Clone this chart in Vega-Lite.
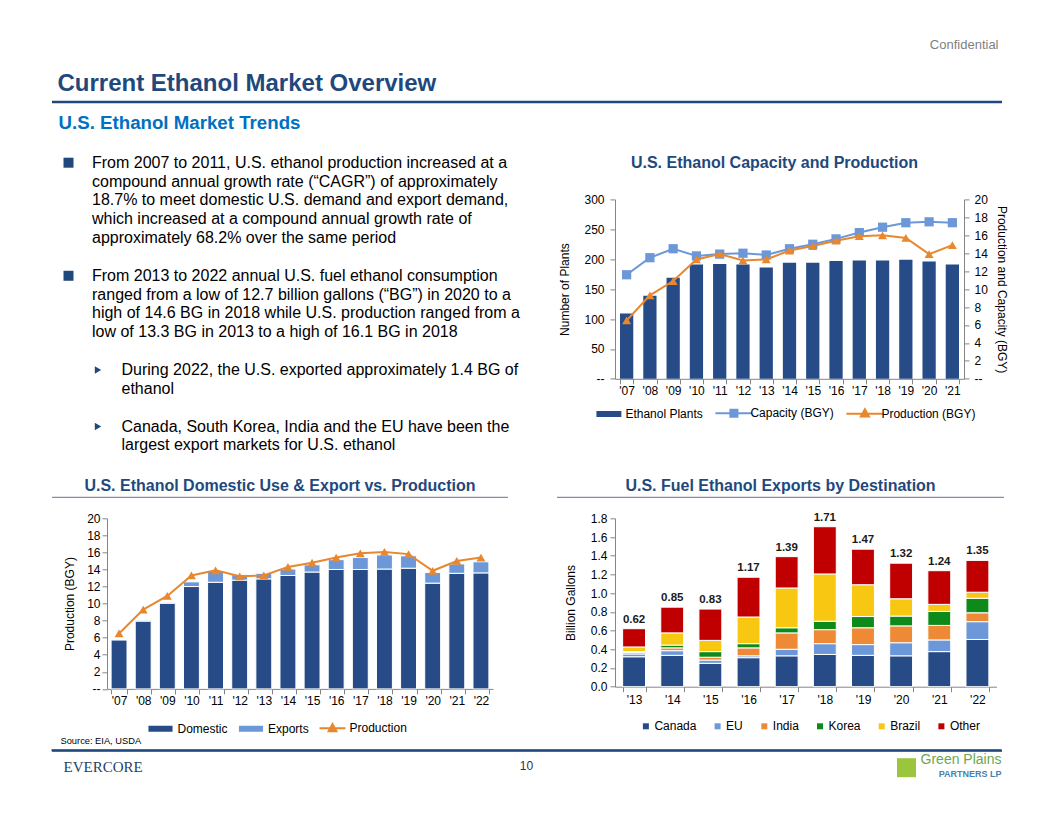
{
  "$schema": "https://vega.github.io/schema/vega-lite/v6.json",
  "background": "white",
  "padding": {"left": 48, "top": 38.5, "right": 0, "bottom": 0},
  "config": {
    "view": {"stroke": null},
    "font": "Liberation Sans",
    "axis": {"labelFont": "Liberation Sans", "titleFont": "Liberation Sans", "labelFontSize": 12, "titleFontSize": 12, "titleFontWeight": "normal", "labelColor": "#000000", "titleColor": "#000000", "domainColor": "#868686", "tickColor": "#868686", "grid": false, "tickSize": 5},
    "legend": {"labelFont": "Liberation Sans", "labelFontSize": 12, "labelColor": "#000000", "padding": 0, "gridAlign": "each"},
    "title": {"font": "Liberation Sans"},
    "text": {"font": "Liberation Sans"}
  },
  "datasets": {
    "plants": [
      {"year": "'07", "plants": 109, "capacity": 11.6, "production": 6.5},
      {"year": "'08", "plants": 139, "capacity": 13.5, "production": 9.3},
      {"year": "'09", "plants": 169, "capacity": 14.5, "production": 10.9},
      {"year": "'10", "plants": 191, "capacity": 13.7, "production": 13.3},
      {"year": "'11", "plants": 192, "capacity": 13.9, "production": 13.9},
      {"year": "'12", "plants": 191, "capacity": 14.0, "production": 13.2},
      {"year": "'13", "plants": 186, "capacity": 13.8, "production": 13.3},
      {"year": "'14", "plants": 194, "capacity": 14.5, "production": 14.3},
      {"year": "'15", "plants": 194, "capacity": 15.0, "production": 14.8},
      {"year": "'16", "plants": 197, "capacity": 15.6, "production": 15.4},
      {"year": "'17", "plants": 198, "capacity": 16.3, "production": 15.9},
      {"year": "'18", "plants": 198, "capacity": 16.9, "production": 16.0},
      {"year": "'19", "plants": 199, "capacity": 17.4, "production": 15.7},
      {"year": "'20", "plants": 196, "capacity": 17.5, "production": 13.9},
      {"year": "'21", "plants": 191, "capacity": 17.4, "production": 14.9}
    ],
    "use": [
      {"year": "'07", "series": "Domestic", "value": 5.75}, {"year": "'07", "series": "Exports", "value": 0.05},
      {"year": "'08", "series": "Domestic", "value": 7.95}, {"year": "'08", "series": "Exports", "value": 0.1},
      {"year": "'09", "series": "Domestic", "value": 10.05}, {"year": "'09", "series": "Exports", "value": 0.1},
      {"year": "'10", "series": "Domestic", "value": 12.0}, {"year": "'10", "series": "Exports", "value": 0.55},
      {"year": "'11", "series": "Domestic", "value": 12.5}, {"year": "'11", "series": "Exports", "value": 1.3},
      {"year": "'12", "series": "Domestic", "value": 12.75}, {"year": "'12", "series": "Exports", "value": 0.65},
      {"year": "'13", "series": "Domestic", "value": 12.9}, {"year": "'13", "series": "Exports", "value": 0.65},
      {"year": "'14", "series": "Domestic", "value": 13.3}, {"year": "'14", "series": "Exports", "value": 0.75},
      {"year": "'15", "series": "Domestic", "value": 13.7}, {"year": "'15", "series": "Exports", "value": 0.85},
      {"year": "'16", "series": "Domestic", "value": 14.0}, {"year": "'16", "series": "Exports", "value": 1.15},
      {"year": "'17", "series": "Domestic", "value": 14.0}, {"year": "'17", "series": "Exports", "value": 1.4},
      {"year": "'18", "series": "Domestic", "value": 14.05}, {"year": "'18", "series": "Exports", "value": 1.65},
      {"year": "'19", "series": "Domestic", "value": 14.15}, {"year": "'19", "series": "Exports", "value": 1.45},
      {"year": "'20", "series": "Domestic", "value": 12.4}, {"year": "'20", "series": "Exports", "value": 1.25},
      {"year": "'21", "series": "Domestic", "value": 13.55}, {"year": "'21", "series": "Exports", "value": 1.1},
      {"year": "'22", "series": "Domestic", "value": 13.6}, {"year": "'22", "series": "Exports", "value": 1.3}
    ],
    "prod": [
      {"year": "'07", "production": 6.5}, {"year": "'08", "production": 9.3}, {"year": "'09", "production": 10.9},
      {"year": "'10", "production": 13.3}, {"year": "'11", "production": 13.9}, {"year": "'12", "production": 13.2},
      {"year": "'13", "production": 13.3}, {"year": "'14", "production": 14.3}, {"year": "'15", "production": 14.8},
      {"year": "'16", "production": 15.4}, {"year": "'17", "production": 15.9}, {"year": "'18", "production": 16.05},
      {"year": "'19", "production": 15.8}, {"year": "'20", "production": 13.85}, {"year": "'21", "production": 15.0},
      {"year": "'22", "production": 15.4}
    ],
    "exports": [
      {"year": "'13", "country": "Canada", "value": 0.32}, {"year": "'13", "country": "EU", "value": 0.03}, {"year": "'13", "country": "India", "value": 0.015}, {"year": "'13", "country": "Korea", "value": 0.01}, {"year": "'13", "country": "Brazil", "value": 0.05}, {"year": "'13", "country": "Other", "value": 0.195},
      {"year": "'14", "country": "Canada", "value": 0.335}, {"year": "'14", "country": "EU", "value": 0.05}, {"year": "'14", "country": "India", "value": 0.03}, {"year": "'14", "country": "Korea", "value": 0.03}, {"year": "'14", "country": "Brazil", "value": 0.13}, {"year": "'14", "country": "Other", "value": 0.275},
      {"year": "'15", "country": "Canada", "value": 0.25}, {"year": "'15", "country": "EU", "value": 0.035}, {"year": "'15", "country": "India", "value": 0.03}, {"year": "'15", "country": "Korea", "value": 0.06}, {"year": "'15", "country": "Brazil", "value": 0.12}, {"year": "'15", "country": "Other", "value": 0.335},
      {"year": "'16", "country": "Canada", "value": 0.31}, {"year": "'16", "country": "EU", "value": 0.02}, {"year": "'16", "country": "India", "value": 0.085}, {"year": "'16", "country": "Korea", "value": 0.045}, {"year": "'16", "country": "Brazil", "value": 0.285}, {"year": "'16", "country": "Other", "value": 0.425},
      {"year": "'17", "country": "Canada", "value": 0.33}, {"year": "'17", "country": "EU", "value": 0.07}, {"year": "'17", "country": "India", "value": 0.175}, {"year": "'17", "country": "Korea", "value": 0.055}, {"year": "'17", "country": "Brazil", "value": 0.425}, {"year": "'17", "country": "Other", "value": 0.335},
      {"year": "'18", "country": "Canada", "value": 0.345}, {"year": "'18", "country": "EU", "value": 0.115}, {"year": "'18", "country": "India", "value": 0.15}, {"year": "'18", "country": "Korea", "value": 0.09}, {"year": "'18", "country": "Brazil", "value": 0.505}, {"year": "'18", "country": "Other", "value": 0.505},
      {"year": "'19", "country": "Canada", "value": 0.335}, {"year": "'19", "country": "EU", "value": 0.115}, {"year": "'19", "country": "India", "value": 0.18}, {"year": "'19", "country": "Korea", "value": 0.12}, {"year": "'19", "country": "Brazil", "value": 0.34}, {"year": "'19", "country": "Other", "value": 0.38},
      {"year": "'20", "country": "Canada", "value": 0.33}, {"year": "'20", "country": "EU", "value": 0.14}, {"year": "'20", "country": "India", "value": 0.18}, {"year": "'20", "country": "Korea", "value": 0.105}, {"year": "'20", "country": "Brazil", "value": 0.185}, {"year": "'20", "country": "Other", "value": 0.38},
      {"year": "'21", "country": "Canada", "value": 0.375}, {"year": "'21", "country": "EU", "value": 0.125}, {"year": "'21", "country": "India", "value": 0.155}, {"year": "'21", "country": "Korea", "value": 0.15}, {"year": "'21", "country": "Brazil", "value": 0.075}, {"year": "'21", "country": "Other", "value": 0.36},
      {"year": "'22", "country": "Canada", "value": 0.505}, {"year": "'22", "country": "EU", "value": 0.19}, {"year": "'22", "country": "India", "value": 0.095}, {"year": "'22", "country": "Korea", "value": 0.155}, {"year": "'22", "country": "Brazil", "value": 0.065}, {"year": "'22", "country": "Other", "value": 0.34}
    ],
    "bullets": [
      {"line": 1, "level": 1, "bullet": true, "text": "From 2007 to 2011, U.S. ethanol production increased at a"},
      {"line": 2, "level": 1, "text": "compound annual growth rate (“CAGR”) of approximately"},
      {"line": 3, "level": 1, "text": "18.7% to meet domestic U.S. demand and export demand,"},
      {"line": 4, "level": 1, "text": "which increased at a compound annual growth rate of"},
      {"line": 5, "level": 1, "text": "approximately 68.2% over the same period"},
      {"line": 7, "level": 1, "bullet": true, "text": "From 2013 to 2022 annual U.S. fuel ethanol consumption"},
      {"line": 8, "level": 1, "text": "ranged from a low of 12.7 billion gallons (“BG”) in 2020 to a"},
      {"line": 9, "level": 1, "text": "high of 14.6 BG in 2018 while U.S. production ranged from a"},
      {"line": 10, "level": 1, "text": "low of 13.3 BG in 2013 to a high of 16.1 BG in 2018"},
      {"line": 12, "level": 2, "bullet": true, "text": "During 2022, the U.S. exported approximately 1.4 BG of"},
      {"line": 13, "level": 2, "text": "ethanol"},
      {"line": 15, "level": 2, "bullet": true, "text": "Canada, South Korea, India and the EU have been the"},
      {"line": 16, "level": 2, "text": "largest export markets for U.S. ethanol"}
    ]
  },
  "columns": 2,
  "bounds": "flush",
  "align": "each",
  "spacing": {"row": 60.9, "column": 122},
  "resolve": {"scale": {"color": "independent", "shape": "independent", "size": "independent", "x": "independent", "y": "independent"}, "legend": {"color": "independent"}},
  "concat": [
    {
      "width": 386, "height": 36.85,
      "title": {"text": "Current Ethanol Market Overview", "anchor": "start", "frame": "group", "dx": -49.5, "offset": -18.7, "fontSize": 24, "fontWeight": "bold", "color": "#1F497D", "baseline": "bottom"},
      "data": {"values": [{"u": 0}]},
      "mark": {"type": "point", "opacity": 0},
      "encoding": {
        "x": {"datum": 0, "type": "quantitative", "scale": {"domain": [0, 1], "range": [-55.5, 894.5]}, "axis": {"orient": "top", "labels": false, "ticks": false, "grid": false, "title": null, "domainColor": "#1F497D", "domainWidth": 2.5}}
      }
    },
    {
      "width": 386.5, "height": 1,
      "data": {"values": [{"label": "Confidential"}]},
      "mark": {"type": "text", "align": "right", "baseline": "middle", "dx": -3, "dy": -56.75, "fontSize": 13, "color": "#7F7F7F"},
      "encoding": {
        "text": {"field": "label"},
        "x": {"datum": 1, "type": "quantitative", "scale": {"domain": [0, 1], "range": [0, 386.5]}, "axis": null}
      }
    },
    {
      "width": 386, "height": 257.1,
      "title": {"text": "U.S. Ethanol Market Trends", "anchor": "start", "frame": "group", "dx": -48.5, "offset": 3, "fontSize": 18.7, "fontWeight": "bold", "color": "#0070C0", "baseline": "bottom"},
      "data": {"name": "bullets"},
      "encoding": {
        "x": {"field": "level", "type": "quantitative", "scale": {"domain": [1, 2], "range": [-15, 14.5]}, "axis": null},
        "y": {"field": "line", "type": "quantitative", "scale": {"domain": [1, 16], "range": [-36.7, 246]}, "axis": null}
      },
      "layer": [
        {
          "mark": {"type": "text", "align": "left", "baseline": "middle", "fontSize": 16, "color": "#000000"},
          "encoding": {"text": {"field": "text"}}
        },
        {
          "transform": [{"filter": "datum.bullet"}],
          "mark": {"type": "point", "filled": true, "opacity": 1, "color": "#1F497D", "xOffset": -23.5},
          "encoding": {
            "shape": {"field": "level", "type": "nominal", "scale": {"domain": [1, 2], "range": ["square", "triangle-right"]}, "legend": null},
            "size": {"field": "level", "type": "quantitative", "scale": {"domain": [1, 2], "range": [100, 55]}, "legend": null}
          }
        }
      ]
    },
    {
      "width": 349, "height": 179.4,
      "title": {"text": "U.S. Ethanol Capacity and Production", "anchor": "middle", "frame": "group", "dx": -15, "offset": 6.7, "fontSize": 16, "fontWeight": "bold", "color": "#1F497D", "baseline": "bottom"},
      "data": {"name": "plants"},
      "layer": [
        {
          "mark": {"type": "bar", "color": "#264B86"},
          "encoding": {
            "x": {"field": "year", "type": "ordinal", "scale": {"paddingInner": 0.43, "paddingOuter": 0.215}, "axis": {"title": null, "labelAngle": 0, "tickBand": "extent", "labelPadding": 2}},
            "y": {"field": "plants", "type": "quantitative", "scale": {"domain": [0, 300]}, "axis": {"title": "Number of Plants", "values": [0, 50, 100, 150, 200, 250, 300], "labelExpr": "datum.value === 0 ? '--' : datum.label", "labelPadding": 6, "titlePadding": 12}},
            "color": {
              "datum": "Ethanol Plants", "type": "nominal",
              "scale": {"domain": ["Ethanol Plants", "Capacity (BGY)", "Production (BGY)"], "range": ["#264B86", "#6C97D8", "#E8872E"]},
              "legend": {
                "title": null, "orient": "none", "direction": "horizontal", "columns": 3, "gridAlign": "each",
                "legendX": -25.6, "legendY": 193.9, "symbolSize": 1369, "labelOffset": -3, "columnPadding": 8, "rowPadding": 0,
                "encode": {"symbols": {"update": {
                  "shape": {"signal": "datum.value === 'Ethanol Plants' ? 'M-0.62,-0.11H0.62V0.11H-0.62Z' : datum.value === 'Capacity (BGY)' ? 'M-1,0H1M-0.19,-0.19H0.19V0.19H-0.19Z' : 'M-1,0H1M0,-0.24L0.22,0.15H-0.22Z'"},
                  "fill": {"signal": "datum.value === 'Ethanol Plants' ? '#264B86' : datum.value === 'Capacity (BGY)' ? '#6C97D8' : '#E8872E'"},
                  "stroke": {"signal": "datum.value === 'Ethanol Plants' ? '#264B86' : datum.value === 'Capacity (BGY)' ? '#6C97D8' : '#E8872E'"},
                  "strokeWidth": {"value": 2},
                  "opacity": {"value": 1},
                  "fillOpacity": {"value": 1}
                }}}
              }
            }
          }
        },
        {
          "encoding": {
            "x": {"field": "year", "type": "ordinal", "scale": {"paddingInner": 0.43, "paddingOuter": 0.215}, "axis": {"title": null, "labelAngle": 0, "tickBand": "extent", "labelPadding": 2}}
          },
          "layer": [
            {
              "mark": {"type": "line", "strokeWidth": 2},
              "encoding": {
                "y": {"field": "capacity", "type": "quantitative", "scale": {"domain": [0, 20]}, "axis": {"orient": "right", "title": "Production and Capacity (BGY)", "values": [0, 2, 4, 6, 8, 10, 12, 14, 16, 18, 20], "labelExpr": "datum.value === 0 ? '--' : datum.label", "labelPadding": 5, "titlePadding": 7}},
                "color": {"datum": "Capacity (BGY)", "type": "nominal"}
              }
            },
            {
              "mark": {"type": "point", "shape": "square", "filled": true, "size": 85, "opacity": 1},
              "encoding": {
                "y": {"field": "capacity", "type": "quantitative", "scale": {"domain": [0, 20]}, "axis": {"orient": "right", "title": "Production and Capacity (BGY)", "values": [0, 2, 4, 6, 8, 10, 12, 14, 16, 18, 20], "labelExpr": "datum.value === 0 ? '--' : datum.label", "labelPadding": 5, "titlePadding": 7}},
                "color": {"datum": "Capacity (BGY)", "type": "nominal"}
              }
            },
            {
              "mark": {"type": "line", "strokeWidth": 2},
              "encoding": {
                "y": {"field": "production", "type": "quantitative", "scale": {"domain": [0, 20]}, "axis": {"orient": "right", "title": "Production and Capacity (BGY)", "values": [0, 2, 4, 6, 8, 10, 12, 14, 16, 18, 20], "labelExpr": "datum.value === 0 ? '--' : datum.label", "labelPadding": 5, "titlePadding": 7}},
                "color": {"datum": "Production (BGY)", "type": "nominal"}
              }
            },
            {
              "mark": {"type": "point", "shape": "triangle-up", "filled": true, "size": 80, "opacity": 1},
              "encoding": {
                "y": {"field": "production", "type": "quantitative", "scale": {"domain": [0, 20]}, "axis": {"orient": "right", "title": "Production and Capacity (BGY)", "values": [0, 2, 4, 6, 8, 10, 12, 14, 16, 18, 20], "labelExpr": "datum.value === 0 ? '--' : datum.label", "labelPadding": 5, "titlePadding": 7}},
                "color": {"datum": "Production (BGY)", "type": "nominal"}
              }
            }
          ]
        }
      ],
      "resolve": {"scale": {"y": "independent"}}
    },
    {
      "width": 386, "height": 170.6,
      "layer": [
        {
          "encoding": {
            "x": {"field": "year", "type": "ordinal", "scale": {"paddingInner": 0.34, "paddingOuter": 0.17}, "axis": {"title": null, "labelAngle": 0, "tickBand": "extent", "labelPadding": 2}}
          },
          "layer": [
            {
              "data": {"name": "use"},
              "transform": [{"window": [{"op": "row_number", "as": "rank"}], "groupby": ["year"]}],
              "mark": {"type": "bar", "stroke": "white", "strokeWidth": 1},
              "encoding": {
                "y": {"field": "value", "type": "quantitative", "stack": "zero", "scale": {"domain": [0, 20]}, "axis": {"title": "Production (BGY)", "values": [0, 2, 4, 6, 8, 10, 12, 14, 16, 18, 20], "labelExpr": "datum.value === 0 ? '--' : datum.label", "labelPadding": 2, "titlePadding": 10}},
                "order": {"field": "rank", "type": "quantitative"},
                "color": {
                  "field": "series", "type": "nominal",
                  "scale": {"domain": ["Domestic", "Exports", "Production"], "range": ["#264B86", "#6C97D8", "#E8872E"]},
                  "legend": {
                    "title": null, "orient": "none", "direction": "horizontal", "columns": 3, "gridAlign": "each",
                    "legendX": 39.5, "legendY": 196, "symbolSize": 676, "labelOffset": 3, "columnPadding": 6.5, "rowPadding": 0,
                    "encode": {"symbols": {"update": {
                      "shape": {"signal": "datum.value === 'Production' ? 'M-1,0H1M0,-0.33L0.3,0.22H-0.3Z' : 'M-0.85,-0.15H0.85V0.15H-0.85Z'"},
                      "fill": {"signal": "datum.value === 'Domestic' ? '#264B86' : datum.value === 'Exports' ? '#6C97D8' : '#E8872E'"},
                      "stroke": {"signal": "datum.value === 'Domestic' ? '#264B86' : datum.value === 'Exports' ? '#6C97D8' : '#E8872E'"},
                      "strokeWidth": {"value": 2},
                      "opacity": {"value": 1},
                      "fillOpacity": {"value": 1}
                    }}}
                  }
                }
              }
            },
            {
              "data": {"name": "prod"},
              "mark": {"type": "line", "strokeWidth": 2},
              "encoding": {
                "y": {"field": "production", "type": "quantitative", "axis": {"title": "Production (BGY)", "values": [0, 2, 4, 6, 8, 10, 12, 14, 16, 18, 20], "labelExpr": "datum.value === 0 ? '--' : datum.label", "labelPadding": 2, "titlePadding": 10}},
                "color": {
                  "datum": "Production", "type": "nominal",
                  "legend": {
                    "title": null, "orient": "none", "direction": "horizontal", "columns": 3, "gridAlign": "each",
                    "legendX": 39.5, "legendY": 196, "symbolSize": 676, "labelOffset": 3, "columnPadding": 6.5, "rowPadding": 0,
                    "encode": {"symbols": {"update": {
                      "shape": {"signal": "datum.value === 'Production' ? 'M-1,0H1M0,-0.33L0.3,0.22H-0.3Z' : 'M-0.85,-0.15H0.85V0.15H-0.85Z'"},
                      "fill": {"signal": "datum.value === 'Domestic' ? '#264B86' : datum.value === 'Exports' ? '#6C97D8' : '#E8872E'"},
                      "stroke": {"signal": "datum.value === 'Domestic' ? '#264B86' : datum.value === 'Exports' ? '#6C97D8' : '#E8872E'"},
                      "strokeWidth": {"value": 2},
                      "opacity": {"value": 1},
                      "fillOpacity": {"value": 1}
                    }}}
                  }
                }
              }
            },
            {
              "data": {"name": "prod"},
              "mark": {"type": "point", "shape": "triangle-up", "filled": true, "size": 80, "opacity": 1},
              "encoding": {
                "y": {"field": "production", "type": "quantitative", "axis": {"title": "Production (BGY)", "values": [0, 2, 4, 6, 8, 10, 12, 14, 16, 18, 20], "labelExpr": "datum.value === 0 ? '--' : datum.label", "labelPadding": 2, "titlePadding": 10}},
                "color": {
                  "datum": "Production", "type": "nominal",
                  "legend": {
                    "title": null, "orient": "none", "direction": "horizontal", "columns": 3, "gridAlign": "each",
                    "legendX": 39.5, "legendY": 196, "symbolSize": 676, "labelOffset": 3, "columnPadding": 6.5, "rowPadding": 0,
                    "encode": {"symbols": {"update": {
                      "shape": {"signal": "datum.value === 'Production' ? 'M-1,0H1M0,-0.33L0.3,0.22H-0.3Z' : 'M-0.85,-0.15H0.85V0.15H-0.85Z'"},
                      "fill": {"signal": "datum.value === 'Domestic' ? '#264B86' : datum.value === 'Exports' ? '#6C97D8' : '#E8872E'"},
                      "stroke": {"signal": "datum.value === 'Domestic' ? '#264B86' : datum.value === 'Exports' ? '#6C97D8' : '#E8872E'"},
                      "strokeWidth": {"value": 2},
                      "opacity": {"value": 1},
                      "fillOpacity": {"value": 1}
                    }}}
                  }
                }
              }
            }
          ]
        },
        {
          "data": {"values": [{"u": 0}]},
          "mark": {"type": "point", "opacity": 0},
          "encoding": {
            "x": {"datum": 0, "type": "quantitative", "scale": {"domain": [0, 1], "range": [-55.5, 400.5]}, "axis": {"orient": "top", "offset": 21.5, "labels": false, "ticks": false, "grid": false, "domainColor": "#7F8FA9", "domainWidth": 1.2, "title": "U.S. Ethanol Domestic Use & Export vs. Production", "titleFontSize": 16, "titleFontWeight": "bold", "titleColor": "#1F497D", "titlePadding": 3.5, "titleAnchor": "middle"}}
          }
        }
      ],
      "resolve": {"scale": {"x": "independent"}, "axis": {"x": "independent"}}
    },
    {
      "width": 381.5, "height": 168.4,
      "layer": [
        {
          "data": {"name": "exports"},
          "encoding": {
            "x": {"field": "year", "type": "ordinal", "scale": {"paddingInner": 0.4, "paddingOuter": 0.2}, "axis": {"title": null, "labelAngle": 0, "tickBand": "extent", "labelPadding": 3}}
          },
          "layer": [
            {
              "transform": [{"window": [{"op": "row_number", "as": "rank"}], "groupby": ["year"]}],
              "mark": {"type": "bar", "stroke": "white", "strokeWidth": 1},
              "encoding": {
                "y": {"field": "value", "type": "quantitative", "stack": "zero", "scale": {"domain": [0, 1.8]}, "axis": {"title": "Billion Gallons", "values": [0, 0.2, 0.4, 0.6, 0.8, 1.0, 1.2, 1.4, 1.6, 1.8], "format": ".1f", "labelPadding": 3, "titlePadding": 13}},
                "order": {"field": "rank", "type": "quantitative"},
                "color": {
                  "field": "country", "type": "nominal",
                  "scale": {"domain": ["Canada", "EU", "India", "Korea", "Brazil", "Other"], "range": ["#264B86", "#6C97D8", "#EE8A35", "#0E8A1B", "#F8C712", "#C00000"]},
                  "legend": {
                    "title": null, "orient": "none", "direction": "horizontal", "columns": 6, "gridAlign": "each",
                    "legendX": 24.9, "legendY": 202, "symbolType": "square", "symbolSize": 36, "symbolStrokeWidth": 0, "symbolOpacity": 1, "labelOffset": 2.5, "columnPadding": 14.7, "rowPadding": 0
                  }
                }
              }
            },
            {
              "transform": [{"aggregate": [{"op": "sum", "field": "value", "as": "total"}], "groupby": ["year"]}],
              "mark": {"type": "text", "baseline": "bottom", "dy": -4, "fontSize": 11.5, "fontWeight": "bold", "color": "#1A1A1A"},
              "encoding": {
                "y": {"field": "total", "type": "quantitative", "axis": {"title": "Billion Gallons", "values": [0, 0.2, 0.4, 0.6, 0.8, 1.0, 1.2, 1.4, 1.6, 1.8], "format": ".1f", "labelPadding": 3, "titlePadding": 13}},
                "text": {"field": "total", "type": "quantitative", "format": ".2f"}
              }
            }
          ]
        },
        {
          "data": {"values": [{"u": 0}]},
          "mark": {"type": "point", "opacity": 0},
          "encoding": {
            "x": {"datum": 0, "type": "quantitative", "scale": {"domain": [0, 1], "range": [-58.5, 388.5]}, "axis": {"orient": "top", "offset": 21.5, "labels": false, "ticks": false, "grid": false, "domainColor": "#7F8FA9", "domainWidth": 1.2, "title": "U.S. Fuel Ethanol Exports by Destination", "titleFontSize": 16, "titleFontWeight": "bold", "titleColor": "#1F497D", "titlePadding": 3.5, "titleAnchor": "middle"}}
          }
        }
      ],
      "resolve": {"scale": {"x": "independent"}, "axis": {"x": "independent"}}
    },
    {
      "width": 386, "height": 30,
      "title": {"text": "Source: EIA, USDA", "anchor": "start", "frame": "group", "dx": -46.5, "offset": -5.3, "fontSize": 9.3, "fontWeight": "normal", "color": "#000000", "baseline": "bottom"},
      "data": {"values": [{"u": 1}]},
      "mark": {"type": "point", "opacity": 0},
      "encoding": {
        "x": {"datum": 0, "type": "quantitative", "scale": {"domain": [0, 1], "range": [-55.5, 894.5]}, "axis": {"orient": "top", "labels": false, "ticks": false, "grid": false, "title": null, "domainColor": "#1F497D", "domainWidth": 2}}
      }
    },
    {
      "width": 386.5, "height": 2,
      "layer": [
        {
          "data": {"values": [{"label": "line"}]},
          "mark": {"type": "rule", "strokeWidth": 2, "color": "#1F497D", "opacity": 1},
          "encoding": {
            "x": {"datum": 0, "type": "quantitative", "scale": {"domain": [0, 1], "range": [-563.5, 386.5]}, "axis": null},
            "x2": {"datum": 1},
            "y": {"datum": 1, "type": "quantitative", "scale": {"domain": [0, 1]}, "axis": null}
          }
        },
        {
          "data": {"values": [{"label": "EVERCORE"}]},
          "mark": {"type": "text", "align": "left", "baseline": "middle", "dx": 12, "dy": 15.5, "font": "Liberation Serif", "fontSize": 15, "color": "#2B3F5F"},
          "encoding": {"text": {"field": "label"}, "x": {"datum": 0, "type": "quantitative", "scale": {"domain": [0, 1], "range": [-563.5, 386.5]}, "axis": null}}
        },
        {
          "data": {"values": [{"label": "10"}]},
          "mark": {"type": "text", "align": "center", "baseline": "middle", "dy": 15, "fontSize": 12, "color": "#333333"},
          "encoding": {"text": {"field": "label"}, "x": {"datum": 0.5, "type": "quantitative", "scale": {"domain": [0, 1], "range": [-563.5, 386.5]}, "axis": null}}
        },
        {
          "data": {"values": [{"label": "Green Plains"}]},
          "mark": {"type": "text", "align": "right", "baseline": "middle", "dy": 8.5, "fontSize": 14, "color": "#6AA84F"},
          "encoding": {"text": {"field": "label"}, "x": {"datum": 1, "type": "quantitative", "scale": {"domain": [0, 1], "range": [-563.5, 386.5]}, "axis": null}}
        },
        {
          "data": {"values": [{"label": "PARTNERS LP"}]},
          "mark": {"type": "text", "align": "right", "baseline": "middle", "dy": 22.5, "fontSize": 9, "fontWeight": "bold", "color": "#4A7FB0"},
          "encoding": {"text": {"field": "label"}, "x": {"datum": 1, "type": "quantitative", "scale": {"domain": [0, 1], "range": [-563.5, 386.5]}, "axis": null}}
        },
        {
          "data": {"values": [{"label": "logo"}]},
          "mark": {"type": "point", "shape": "square", "filled": true, "size": 360, "color": "#9BC53D", "opacity": 1, "xOffset": -95, "yOffset": 16.5},
          "encoding": {"x": {"datum": 1, "type": "quantitative", "scale": {"domain": [0, 1], "range": [-563.5, 386.5]}, "axis": null}}
        }
      ]
    }
  ]
}
